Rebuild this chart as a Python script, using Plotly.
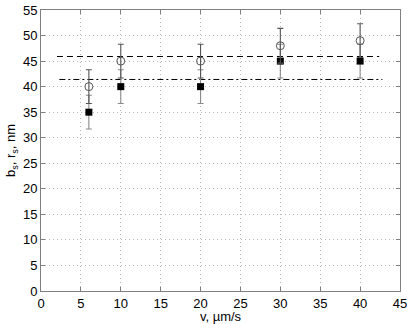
import plotly.graph_objects as go

# data
v = [6, 10, 20, 30, 40]
r_s = [40, 45, 45, 48, 49]          # open circles
r_s_err = [3.3, 3.3, 3.3, 3.4, 3.3]
b_s = [35, 40, 40, 45, 45]          # filled squares
b_s_err = [3.3, 3.3, 3.3, 3.3, 3.3]

# horizontal reference lines (level, x start, x end)
dash_x = [2.0, 42.4]
dash_y = [45.9, 45.9]
dashdot_x = [2.3, 42.8]
dashdot_y = [41.4, 41.4]

x_ticks = list(range(0, 46, 5))
y_ticks = list(range(0, 56, 5))

FONT = 'Liberation Sans, Arial, sans-serif'

fig = go.Figure()

fig.add_trace(go.Scatter(
    x=dash_x, y=dash_y, mode='lines',
    line=dict(color='black', width=1, dash='6px,4px'),
    showlegend=False, hoverinfo='skip'
))
fig.add_trace(go.Scatter(
    x=dashdot_x, y=dashdot_y, mode='lines',
    line=dict(color='black', width=1, dash='6px,3px,2px,3px'),
    showlegend=False, hoverinfo='skip'
))

# square series
fig.add_trace(go.Scatter(
    x=v, y=b_s, mode='markers',
    marker=dict(symbol='square', size=7, color='black'),
    error_y=dict(type='data', array=b_s_err, color='#8a8a8a',
                 thickness=1.1, width=3),
    showlegend=False
))

# circle series
fig.add_trace(go.Scatter(
    x=v, y=r_s, mode='markers',
    marker=dict(symbol='circle-open', size=8, color='#555555',
                line=dict(width=1)),
    error_y=dict(type='data', array=r_s_err, color='#555555',
                 thickness=1.1, width=3),
    showlegend=False
))

axis_style = dict(
    showline=True, linecolor='#808080', linewidth=1, mirror='ticks',
    ticks='inside', ticklen=4, tickcolor='#808080',
    showgrid=True, gridcolor='#b8b8b8', griddash='1px,3px', gridwidth=1,
    zeroline=False, automargin=False,
    tickfont=dict(family=FONT, size=13, color='black'),
)

fig.update_xaxes(
    range=[0, 45], tickvals=x_ticks,
    title=dict(text='v, \u00b5m/s', standoff=0,
               font=dict(family=FONT, size=13)),
    **axis_style
)
fig.update_yaxes(
    range=[0, 55], tickvals=y_ticks,
    title=dict(text='b<sub>s</sub>, r<sub>s</sub>, nm', standoff=4,
               font=dict(family=FONT, size=13)),
    **axis_style
)

fig.update_layout(
    width=409, height=324,
    margin=dict(l=41, r=9, t=10, b=33),
    plot_bgcolor='white', paper_bgcolor='white',
    font=dict(family=FONT, size=13, color='black'),
)

# drop the default page margin so the figure sits at the window's corner
fig.write_html("out.html", config={'displayModeBar': False},
               post_script="document.body.style.margin='0';")
